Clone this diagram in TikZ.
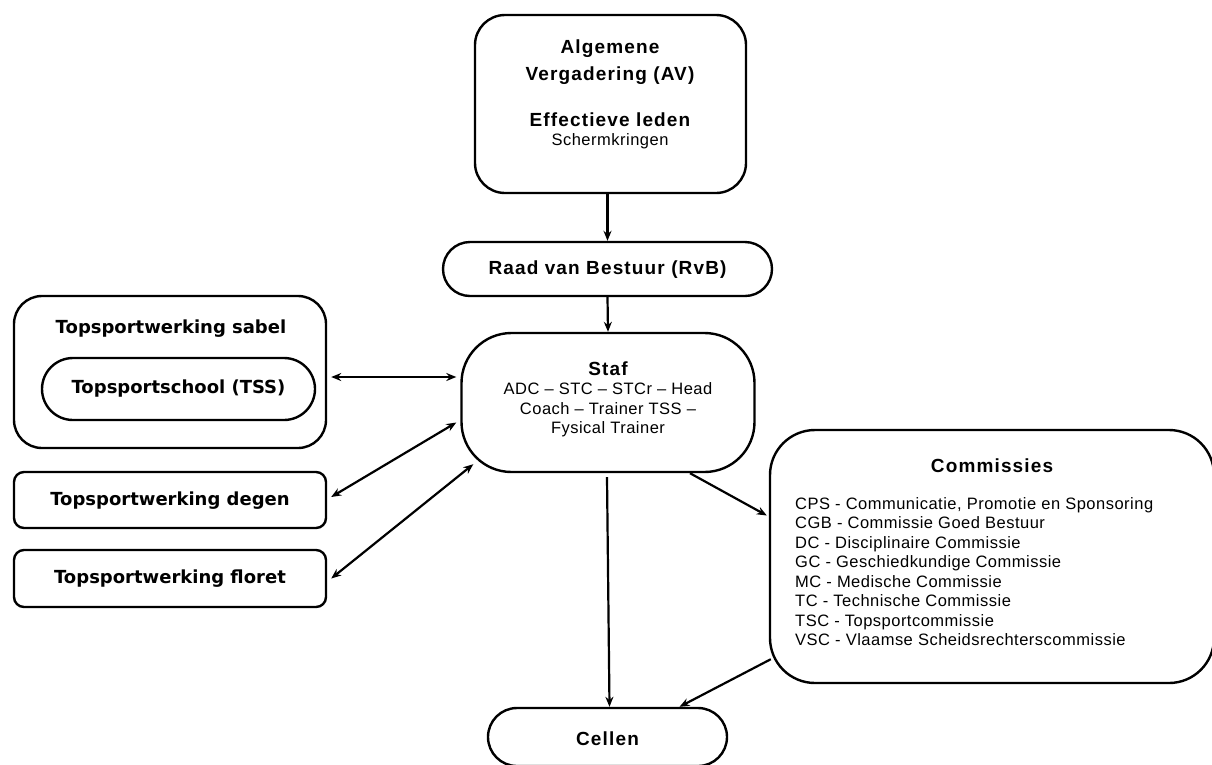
\documentclass[tikz,border=0pt]{standalone}
\usepackage{fontspec}
\setmainfont{Liberation Sans}
\newfontfamily\dejavu{DejaVu Sans}
\newfontfamily\boldsp[LetterSpace=6]{Liberation Sans Bold}
\newfontfamily\regsp[LetterSpace=3]{Liberation Sans}
\usetikzlibrary{arrows.meta,calc}
\begin{document}
\begin{tikzpicture}[x=1pt,y=-1pt,
  box/.style={draw,line width=2.4pt,inner sep=0pt},
  conn/.style={line width=2.2pt,-{Stealth[length=10pt,width=8pt]}},
  dconn/.style={line width=2.2pt,{Stealth[length=10pt,width=8pt]}-{Stealth[length=10pt,width=8pt]}},
  ttl/.style={font=\boldsp\fontsize{19}{22}\selectfont},
  txt/.style={font=\regsp\fontsize{16.5}{19.5}\selectfont},
  lft/.style={font=\dejavu\bfseries\fontsize{18}{21}\selectfont}]
\useasboundingbox (0,0) rectangle (1212,764);
% boxes
\node[box,rounded corners=30pt,minimum width=271pt,minimum height=178pt] (av) at (610.5,104) {};
\node[box,rounded corners=27pt,minimum width=329pt,minimum height=54pt] (rvb) at (607.5,269) {};
\node[box,rounded corners=50pt,minimum width=293pt,minimum height=139pt] (staf) at (608,402.5) {};
\node[box,rounded corners=28pt,minimum width=312pt,minimum height=152pt] (sabel) at (170,372) {};
\node[box,rounded corners=31pt,minimum width=273pt,minimum height=62pt] (tss) at (178.5,389) {};
\node[box,rounded corners=10pt,minimum width=312pt,minimum height=56pt] (degen) at (170,500) {};
\node[box,rounded corners=10pt,minimum width=312pt,minimum height=57pt] (floret) at (170,578.5) {};
\node[box,rounded corners=45pt,minimum width=444pt,minimum height=253pt] (comm) at (992,556.5) {};
\node[box,rounded corners=29pt,minimum width=239pt,minimum height=58pt] (cellen) at (607.5,737) {};
% texts
\node[ttl] (t1) at (610,49) {Algemene};
\node[ttl] (t2) at (610,76) {Vergadering (AV)};
\node[ttl] (t3) at (610,120) {Effectieve leden};
\node[txt] (t4) at (610,141) {Schermkringen};
\node[ttl] (t5) at (607.5,270) {Raad van Bestuur (RvB)};
\node[ttl] (t6) at (608,369) {Staf};
\node[txt,align=center] (t7) at (608,410) {ADC – STC – STCr – Head\\Coach – Trainer TSS –\\Fysical Trainer};
\node[lft] (t8) at (171,329) {Topsportwerking sabel};
\node[lft] (t9) at (178.5,389) {Topsportschool (TSS)};
\node[lft] (t10) at (170,501) {Topsportwerking degen};
\node[lft] (t11) at (170,579) {Topsportwerking floret};
\node[ttl] (t12) at (992,466) {Commissies};
\node[txt,align=left,anchor=north west,inner sep=0pt] (t13) at (795,497) {CPS - Communicatie, Promotie en Sponsoring\\CGB - Commissie Goed Bestuur\\DC - Disciplinaire Commissie\\GC - Geschiedkundige Commissie\\MC - Medische Commissie\\TC - Technische Commissie\\TSC - Topsportcommissie\\VSC - Vlaamse Scheidsrechterscommissie};
\node[ttl] (t14) at (607.5,739) {Cellen};
% connectors
\draw[conn] (rvb.north |- av.south) -- (rvb.north);
\draw[conn] (rvb.south) -- (staf.north);
\draw[dconn] ($(sabel.east)+(4,5)$) -- ($(sabel.east -| staf.west)+(-4,5)$);
\draw[dconn] ($(degen.east)+(4,-3)$) -- ($(staf.west)+(-4,20)$);
\draw[dconn] ($(floret.east)+(4,0)$) -- ($(staf.south west)+(13,-9)$);
\draw[conn] ($(staf.south)+(82,0)$) -- ($(comm.west)+(-2,-41)$);
\draw[conn] ($(staf.south)+(-1,4)$) -- ($(cellen.north)+(2,0)$);
\draw[conn] ($(comm.south west)+(2,-25)$) -- ($(cellen.north)+(72,0)$);
\end{tikzpicture}
\end{document}
